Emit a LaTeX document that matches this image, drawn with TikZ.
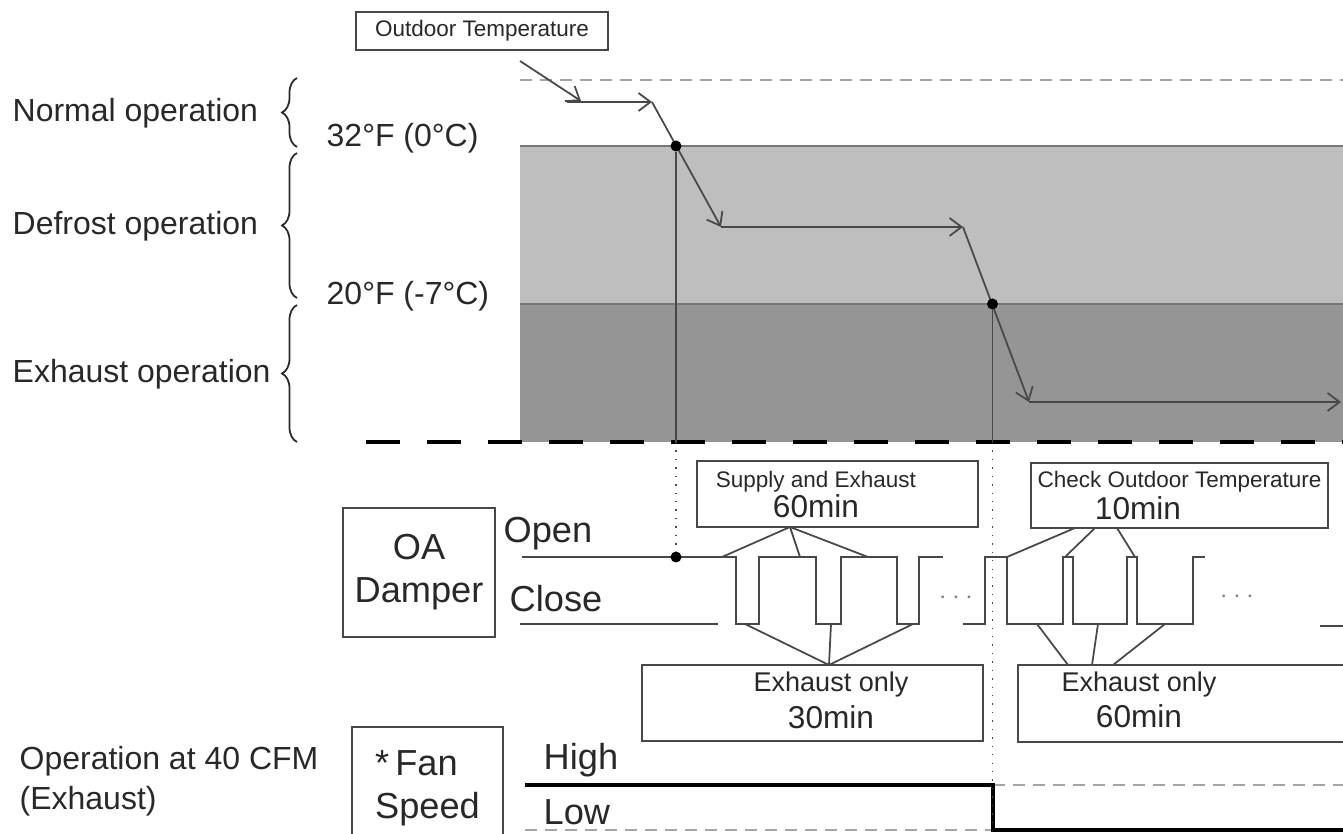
\documentclass[tikz,border=0pt]{standalone}
\usepackage{fontspec}
\setmainfont{Liberation Sans}
\usetikzlibrary{arrows.meta,decorations.pathreplacing,calc}
\definecolor{BandLight}{RGB}{190,190,190}
\definecolor{BandDark}{RGB}{149,149,149}
\definecolor{BandEdge}{RGB}{118,118,118}
\definecolor{InkGray}{RGB}{72,72,72}
\definecolor{TextGray}{RGB}{40,40,40}
\definecolor{DashGray}{RGB}{165,165,165}
\definecolor{GapGray}{RGB}{125,125,125}
\newcommand{\smallfnt}{\fontsize{6.4}{7.5}\selectfont}
\newcommand{\boxfnt}{\fontsize{7.7}{9}\selectfont}
\newcommand{\minfnt}{\fontsize{9}{10.8}\selectfont}
\newcommand{\lblfnt}{\fontsize{9.1}{11.7}\selectfont}
\newcommand{\bigfnt}{\fontsize{10.3}{12.2}\selectfont}
\tikzset{
  lbl/.style={inner sep=0pt,text=TextGray,font=\lblfnt,anchor=base west},
  sigtext/.style={inner sep=0pt,text=TextGray,font=\bigfnt,anchor=base west},
  timebox/.style={draw=InkGray,line width=0.6pt,rectangle,inner sep=0pt},
  boxtext/.style={inner sep=0pt,text=TextGray,anchor=base},
  templine/.style={-{Straight Barb[length=1.2mm,width=1.8mm]},
    draw=InkGray,line width=0.5pt},
  statedot/.style={circle,fill=black,inner sep=0pt,minimum size=1.1mm},
  wave/.style={draw=InkGray,line width=0.7pt},
  guide/.style={draw=InkGray,line width=0.4pt,dotted},
  pointer/.style={draw=InkGray,line width=0.5pt},
  opbrace/.style={decorate,decoration={brace,amplitude=1.5mm},
    draw=TextGray,line width=0.5pt},
  gapdots/.style={inner sep=0pt,text=GapGray,font=\fontsize{7}{8}\selectfont},
}

\begin{document}
\begin{tikzpicture}[x=0.1mm,y=-0.1mm]
    \useasboundingbox (0,0) rectangle (1343,834);
    \clip (0,0) rectangle (1343,834);

    % temperature bands
    \fill[BandLight] (520,146) rectangle (1343,304);
    \fill[BandDark] (520,304) rectangle (1343,442);
    \draw[BandEdge,line width=0.8pt] (520,146) -- (1343,146);
    \draw[BandEdge,line width=0.6pt] (520,304) -- (1343,304);
    \draw[DashGray,line width=0.8pt,dash pattern=on 1.2mm off 0.8mm] (520,80) -- (1343,80);
    \draw[black,line width=1.4pt,dash pattern=on 3.4mm off 2.7mm] (366,442) -- (1343,442);

    % left labels
    \node[lbl] (normal) at (12,122) {Normal operation};
    \node[lbl] (defrost) at (12,235) {Defrost operation};
    \node[lbl] (exhaust) at (12,383) {Exhaust operation};
    \node[lbl] (t32) at (326,147) {32°F (0°C)};
    \node[lbl] (t20) at (326,305) {20°F (-7°C)};
    \draw[opbrace] (297,147) -- (297,78);
    \draw[opbrace] (297,298) -- (297,153);
    \draw[opbrace] (297,442) -- (297,305);

    % outdoor temperature curve
    \node[timebox,minimum width=25.2mm,minimum height=3.8mm,
          text=TextGray,font=\smallfnt] (outdoor) at (482,31) {Outdoor Temperature};
    \coordinate (t0) at (520,61);
    \coordinate (t1) at (581,101);
    \coordinate (t2) at (567,102);
    \coordinate (t3) at (652,102);
    \coordinate (t4) at (721,227);
    \coordinate (t5) at (963,227);
    \coordinate (t6) at (1029,402);
    \coordinate (t7) at (1341,402);
    \draw[templine] (t0) -- (t1);
    \draw[templine] (t2) -- (t3);
    \draw[templine] (t3) -- (t4);
    \draw[templine] (t4) -- (t5);
    \draw[templine] (t5) -- (t6);
    \draw[templine] (t6) -- (t7);

    % OA damper
    \node[timebox,minimum width=15.2mm,minimum height=12.9mm,align=center,
          text=TextGray,font=\bigfnt] (oa) at (419,572.5) {OA\\Damper};
    \node[sigtext] (open) at (503,543) {Open};
    \node[sigtext] (close) at (509,612) {Close};
    \draw[wave] (522,557) -- (736,557) -- (736,624) -- (759,624) -- (759,557)
      -- (816,557) -- (816,624) -- (841,624) -- (841,557) -- (897,557)
      -- (897,624) -- (919,624) -- (919,557) -- (943,557);
    \draw[wave] (520,624) -- (718,624);
    \draw[wave] (963,624) -- (985,624) -- (985,557) -- (1007,557) -- (1007,624)
      -- (1063,624) -- (1063,557) -- (1073,557) -- (1073,624) -- (1127,624)
      -- (1127,557) -- (1137,557) -- (1137,624) -- (1193,624) -- (1193,557)
      -- (1205,557);
    \draw[wave] (1320,626) -- (1343,626);
    \node[gapdots] (gap1) at (956,598) {$\cdots$};
    \node[gapdots] (gap2) at (1237,597) {$\cdots$};

    % duration boxes
    \node[timebox,minimum width=28.1mm,minimum height=6.6mm] (supbox) at (837.5,494) {};
    \node[boxtext,font=\smallfnt] (suptext) at (816,488) {Supply and Exhaust};
    \node[boxtext,font=\minfnt] (supmin) at (816,518) {60min};
    \node[timebox,minimum width=34.1mm,minimum height=7.6mm] (exabox) at (812.5,703) {};
    \node[boxtext,font=\boxfnt] (exatext) at (831,692) {Exhaust only};
    \node[boxtext,font=\minfnt] (examin) at (831,729) {30min};
    \node[timebox,minimum width=29.7mm,minimum height=6.5mm] (chkbox) at (1179.5,495.5) {};
    \node[boxtext,font=\smallfnt] (chktext) at (1179.5,488) {Check Outdoor Temperature};
    \node[boxtext,font=\minfnt] (chkmin) at (1138,520) {10min};
    \node[timebox,minimum width=34.2mm,minimum height=7.7mm] (exbbox) at (1189,703.5) {};
    \node[boxtext,font=\boxfnt] (exbtext) at (1139,692) {Exhaust only};
    \node[boxtext,font=\minfnt] (exbmin) at (1139,728) {60min};

    \coordinate (supA) at (790,527);
    \coordinate (sp1) at (722,557);
    \coordinate (sp2) at (800,557);
    \coordinate (sp3) at (868,557);
    \draw[pointer] (supA) -- (sp1);
    \draw[pointer] (supA) -- (sp2);
    \draw[pointer] (supA) -- (sp3);
    \coordinate (exaA) at (829,665);
    \coordinate (ea1) at (745,624);
    \coordinate (ea2) at (831,624);
    \coordinate (ea3) at (913,624);
    \draw[pointer] (exaA) -- (ea1);
    \draw[pointer] (exaA) -- (ea2);
    \draw[pointer] (exaA) -- (ea3);
    \coordinate (chkA1) at (1075,528);
    \coordinate (chkA2) at (1095,528);
    \coordinate (chkA3) at (1117,528);
    \coordinate (ck1) at (1007,557);
    \coordinate (ck2) at (1065,557);
    \coordinate (ck3) at (1135,557);
    \draw[pointer] (chkA1) -- (ck1);
    \draw[pointer] (chkA2) -- (ck2);
    \draw[pointer] (chkA3) -- (ck3);
    \coordinate (exbA1) at (1068,665);
    \coordinate (exbA2) at (1092,665);
    \coordinate (exbA3) at (1113,665);
    \coordinate (eb1) at (1037,624);
    \coordinate (eb2) at (1098,624);
    \coordinate (eb3) at (1165,624);
    \draw[pointer] (exbA1) -- (eb1);
    \draw[pointer] (exbA2) -- (eb2);
    \draw[pointer] (exbA3) -- (eb3);

    % fan speed
    \node[lbl] (cfm) at (19,770) {Operation at 40 CFM};
    \node[lbl] (cfmsub) at (19,810) {(Exhaust)};
    \node[timebox,minimum width=15.1mm,minimum height=12.3mm,align=left,
          text=TextGray,font=\bigfnt] (fan) at (427.5,788.5) {*\,Fan\\Speed};
    \node[sigtext] (high) at (543,770) {High};
    \node[sigtext] (low) at (543,825) {Low};
    \draw[DashGray,line width=0.8pt,dash pattern=on 1.2mm off 0.8mm] (993,785) -- (1343,785);
    \draw[DashGray,line width=0.8pt,dash pattern=on 1.2mm off 0.8mm] (525,830) -- (993,830);
    \draw[black,line width=1pt] (525,785) -- (993,785) -- (993,830) -- (1343,830);

    % switching instants
    \node[statedot] (d1) at (676,146) {};
    \node[statedot] (d2) at (992.5,304) {};
    \node[statedot] (d3) at (676,557) {};
    \coordinate (g1) at (676,442);
    \coordinate (g2) at (992.5,442);
    \coordinate (g2b) at (992.5,834);
    \draw[InkGray,line width=0.4pt] (d1) -- (g1);
    \draw[guide] (g1) -- (d3);
    \draw[InkGray,line width=0.4pt] (d2) -- (g2);
    \draw[guide] (g2) -- (g2b);
\end{tikzpicture}
\end{document}
